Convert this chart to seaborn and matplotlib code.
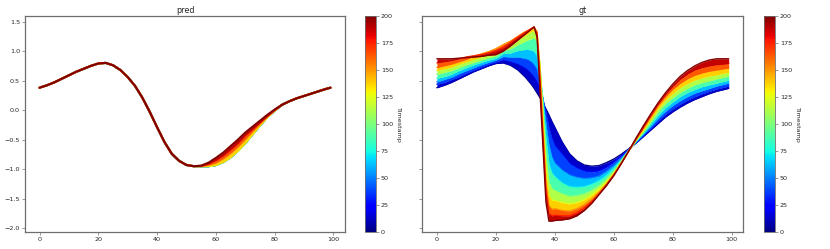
import numpy as np
import pandas as pd
import matplotlib
matplotlib.use("Agg")
import matplotlib.pyplot as plt
import seaborn as sns
from matplotlib.colors import Normalize
from matplotlib.cm import ScalarMappable

# ---------------- data ----------------
timestamps = [0, 25, 50, 75, 100, 125, 150, 175, 200]

# "pred" panel: curves for t = 0..125 coincide, later ones shift left near the trough
pred_x = [0, 2.5, 5, 7.5, 10, 12.5, 15, 17.5, 20, 22.5, 25, 27.5, 30, 32.5, 35, 37.5, 40,
          42.5, 45, 47.5, 50, 52.5, 55, 57.5, 60, 62.5, 65, 67.5, 70, 72.5, 75, 77.5, 80,
          82.5, 85, 87.5, 90, 92.5, 95, 97.5, 99]
pred_base = [0.38, 0.42, 0.47, 0.53, 0.59, 0.65, 0.70, 0.75, 0.79, 0.80, 0.76, 0.68, 0.56, 0.41,
             0.21, -0.03, -0.29, -0.54, -0.74, -0.86, -0.93, -0.95, -0.95, -0.95, -0.93, -0.88,
             -0.80, -0.69, -0.56, -0.41, -0.26, -0.12, -0.01, 0.09, 0.15, 0.20, 0.24, 0.28, 0.32,
             0.36, 0.38]
pred_t150 = [0.38, 0.42, 0.47, 0.53, 0.59, 0.65, 0.70, 0.75, 0.79, 0.80, 0.76, 0.68, 0.56, 0.41,
             0.21, -0.03, -0.29, -0.54, -0.74, -0.86, -0.93, -0.95, -0.95, -0.93, -0.89, -0.82,
             -0.73, -0.62, -0.49, -0.36, -0.23, -0.11, 0.00, 0.09, 0.15, 0.20, 0.24, 0.28, 0.32,
             0.36, 0.38]
pred_t175 = [0.38, 0.42, 0.47, 0.53, 0.59, 0.65, 0.70, 0.75, 0.79, 0.80, 0.76, 0.68, 0.56, 0.41,
             0.21, -0.03, -0.29, -0.54, -0.74, -0.86, -0.93, -0.95, -0.945, -0.91, -0.85, -0.77,
             -0.67, -0.56, -0.43, -0.32, -0.21, -0.10, 0.00, 0.09, 0.15, 0.20, 0.24, 0.28, 0.32,
             0.36, 0.38]
pred_t200 = [0.38, 0.42, 0.47, 0.53, 0.59, 0.65, 0.70, 0.75, 0.79, 0.80, 0.76, 0.68, 0.56, 0.41,
             0.21, -0.03, -0.29, -0.54, -0.74, -0.86, -0.93, -0.95, -0.94, -0.89, -0.81, -0.72,
             -0.61, -0.50, -0.38, -0.28, -0.18, -0.08, 0.01, 0.09, 0.15, 0.20, 0.24, 0.28, 0.32,
             0.36, 0.38]

# "gt" panel
gt_x = [0, 2.5, 5, 7.5, 10, 12.5, 15, 17.5, 20, 22.5, 25, 27.5, 30,
        31, 32, 33, 34, 35, 36, 37, 38, 39,
        40, 42.5, 45, 47.5, 50, 52.5, 55, 57.5, 60, 62.5, 65, 67.5, 70, 72.5, 75, 77.5,
        80, 82.5, 85, 87.5, 90, 92.5, 95, 97.5, 99]
gt_t000 = [0.38, 0.42, 0.47, 0.53, 0.59, 0.65, 0.70, 0.75, 0.79, 0.80, 0.76, 0.68, 0.56,
           0.50, 0.44, 0.37, 0.29, 0.21, 0.12, 0.02, -0.08, -0.19,
           -0.29, -0.54, -0.74, -0.86, -0.93, -0.95, -0.94, -0.89, -0.83, -0.75, -0.66, -0.56,
           -0.45, -0.34, -0.23, -0.12, -0.03, 0.05, 0.12, 0.18, 0.23, 0.28, 0.32, 0.35, 0.37]
gt_t025 = [0.44, 0.47, 0.52, 0.57, 0.63, 0.68, 0.73, 0.78, 0.82, 0.86, 0.83, 0.79, 0.72,
           0.68, 0.63, 0.57, 0.49, 0.37, 0.18, -0.05, -0.30, -0.48,
           -0.60, -0.75, -0.90, -0.98, -1.03, -1.05, -1.03, -0.97, -0.88, -0.78, -0.67, -0.55,
           -0.43, -0.31, -0.19, -0.07, 0.02, 0.10, 0.17, 0.23, 0.28, 0.32, 0.36, 0.39, 0.41]
gt_t050 = [0.48, 0.52, 0.56, 0.62, 0.67, 0.72, 0.77, 0.81, 0.85, 0.91, 0.90, 0.90, 0.88,
           0.86, 0.83, 0.78, 0.70, 0.52, 0.18, -0.25, -0.60, -0.80,
           -0.90, -1.02, -1.10, -1.14, -1.16, -1.15, -1.12, -1.04, -0.94, -0.82, -0.68, -0.54,
           -0.41, -0.28, -0.14, -0.02, 0.08, 0.16, 0.23, 0.29, 0.33, 0.37, 0.41, 0.44, 0.46]
gt_t075 = [0.54, 0.57, 0.61, 0.67, 0.72, 0.77, 0.81, 0.85, 0.88, 0.96, 0.97, 1.01, 1.03,
           1.03, 1.02, 1.00, 0.93, 0.65, 0.12, -0.50, -0.92, -1.07,
           -1.13, -1.24, -1.30, -1.31, -1.30, -1.26, -1.20, -1.11, -0.99, -0.85, -0.69, -0.53,
           -0.39, -0.24, -0.09, 0.04, 0.14, 0.23, 0.30, 0.35, 0.40, 0.43, 0.46, 0.49, 0.51]
gt_t100 = [0.61, 0.64, 0.67, 0.72, 0.77, 0.81, 0.85, 0.89, 0.92, 1.01, 1.04, 1.11, 1.17,
           1.19, 1.21, 1.22, 1.17, 0.75, 0.00, -0.80, -1.22, -1.33,
           -1.36, -1.42, -1.46, -1.45, -1.42, -1.36, -1.28, -1.17, -1.03, -0.87, -0.69, -0.52,
           -0.37, -0.20, -0.03, 0.11, 0.21, 0.30, 0.37, 0.43, 0.47, 0.50, 0.53, 0.56, 0.58]
gt_t125 = [0.67, 0.70, 0.73, 0.78, 0.82, 0.86, 0.90, 0.94, 0.98, 1.07, 1.11, 1.19, 1.27,
           1.30, 1.33, 1.35, 1.30, 0.75, -0.20, -1.05, -1.45, -1.53,
           -1.53, -1.57, -1.59, -1.57, -1.52, -1.44, -1.34, -1.22, -1.07, -0.89, -0.70, -0.51,
           -0.34, -0.16, 0.02, 0.17, 0.28, 0.38, 0.45, 0.51, 0.55, 0.58, 0.60, 0.63, 0.64]
gt_t150 = [0.72, 0.75, 0.78, 0.82, 0.86, 0.91, 0.95, 0.99, 1.04, 1.11, 1.17, 1.25, 1.33,
           1.35, 1.38, 1.40, 1.33, 0.60, -0.35, -1.25, -1.62, -1.68,
           -1.67, -1.70, -1.71, -1.67, -1.60, -1.51, -1.39, -1.25, -1.09, -0.90, -0.70, -0.50,
           -0.31, -0.12, 0.07, 0.22, 0.35, 0.45, 0.53, 0.59, 0.63, 0.66, 0.68, 0.70, 0.71]
gt_t175 = [0.80, 0.82, 0.84, 0.87, 0.90, 0.92, 0.94, 0.97, 1.01, 1.06, 1.15, 1.24, 1.32,
           1.35, 1.38, 1.41, 1.28, 0.45, -0.50, -1.40, -1.76, -1.79,
           -1.78, -1.79, -1.79, -1.74, -1.66, -1.55, -1.42, -1.27, -1.10, -0.91, -0.70, -0.49,
           -0.29, -0.09, 0.10, 0.26, 0.40, 0.52, 0.61, 0.68, 0.72, 0.75, 0.77, 0.78, 0.79]
gt_t200 = [0.87, 0.87, 0.87, 0.88, 0.89, 0.90, 0.91, 0.93, 0.94, 1.00, 1.09, 1.19, 1.29,
           1.33, 1.37, 1.41, 1.23, 0.30, -0.63, -1.56, -1.88, -1.88,
           -1.87, -1.86, -1.84, -1.79, -1.70, -1.58, -1.43, -1.28, -1.11, -0.91, -0.70, -0.48,
           -0.27, -0.07, 0.12, 0.29, 0.44, 0.57, 0.67, 0.75, 0.81, 0.85, 0.87, 0.87, 0.87]

pred_curves = [pred_base] * 6 + [pred_t150, pred_t175, pred_t200]
gt_curves = [gt_t000, gt_t025, gt_t050, gt_t075, gt_t100, gt_t125, gt_t150, gt_t175, gt_t200]

x_ticks = [0, 20, 40, 60, 80, 100]
y_ticks = [-2.0, -1.5, -1.0, -0.5, 0.0, 0.5, 1.0, 1.5]
cbar_ticks = [0, 25, 50, 75, 100, 125, 150, 175, 200]

# ---------------- drawing ----------------
sns.set_style("ticks")
plt.rcParams["font.family"] = ["DejaVu Sans"]

cmap = matplotlib.colormaps["jet"]
norm = Normalize(vmin=0, vmax=200)
TICK_FS = 4.6
EDGE = "#6e6e6e"

fig = plt.figure(figsize=(8.3, 2.49), dpi=100)
ax1 = fig.add_axes([0.0301, 0.067, 0.3856, 0.870])
cax1 = fig.add_axes([0.4398, 0.067, 0.01325, 0.870])
ax2 = fig.add_axes([0.5088, 0.067, 0.3867, 0.870], sharey=ax1)
cax2 = fig.add_axes([0.9205, 0.067, 0.01325, 0.870])


def draw_panel(ax, cax, x, curves, title, lw):
    n = len(timestamps)
    for k in range(n - 1):
        mid = 0.5 * (timestamps[k] + timestamps[k + 1])
        ax.fill_between(x, curves[k], curves[k + 1], color=cmap(norm(mid)),
                        linewidth=0, zorder=2 + 2 * k)
    df = pd.DataFrame({
        "x": np.tile(np.asarray(x, dtype=float), n),
        "y": np.concatenate([np.asarray(c, dtype=float) for c in curves]),
        "Timestamp": np.repeat(timestamps, len(x)),
    })
    sns.lineplot(data=df, x="x", y="y", hue="Timestamp", palette=cmap,
                 hue_norm=(0, 200), legend=False, ax=ax, linewidth=lw,
                 estimator=None, sort=False)
    for i, line in enumerate(ax.lines):
        line.set_zorder(1 + 2 * i)
        line.set_solid_joinstyle("round")
    ax.set_xlabel("")
    ax.set_ylabel("")
    ax.set_title(title, fontsize=5.8, pad=2)
    ax.set_xlim(-4.95, 103.95)
    ax.set_xticks(x_ticks)
    ax.tick_params(labelsize=TICK_FS, length=2, width=0.5, color=EDGE, pad=1.5)
    for sp in ax.spines.values():
        sp.set_visible(True)
        sp.set_color(EDGE)
        sp.set_linewidth(0.9)

    sm = ScalarMappable(norm=norm, cmap=cmap)
    cb = fig.colorbar(sm, cax=cax)
    cb.set_ticks(cbar_ticks)
    cb.ax.tick_params(labelsize=TICK_FS, length=2, width=0.5, color=EDGE, pad=1.5)
    cb.outline.set_edgecolor(EDGE)
    cb.outline.set_linewidth(0.6)
    cb.set_label("Timestamp", rotation=270, fontsize=TICK_FS, labelpad=6)


draw_panel(ax1, cax1, pred_x, pred_curves, "pred", 1.5)
draw_panel(ax2, cax2, gt_x, gt_curves, "gt", 1.0)

ax1.set_ylim(-2.07, 1.6)
ax1.set_yticks(y_ticks)
plt.setp(ax2.get_yticklabels(), visible=False)

fig.savefig("out.png", dpi=100)
